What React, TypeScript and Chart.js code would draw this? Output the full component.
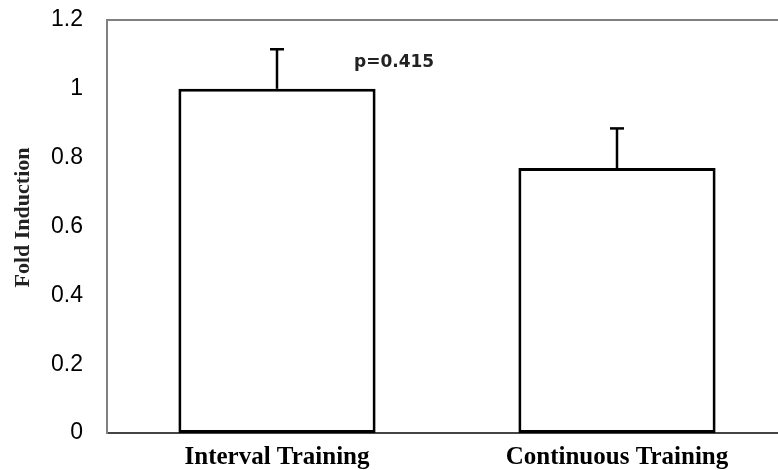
import React, { useEffect, useRef } from 'react';
import { Chart, registerables } from 'chart.js';

Chart.register(...registerables);

const categories = ['Interval Training', 'Continuous Training'];
const foldValues = [1.0, 0.77];
const errorValues = [0.115, 0.115];
const yTickLabels = ['0', '0.2', '0.4', '0.6', '0.8', '1', '1.2'];
const yAxisTitle = 'Fold Induction';
const pValueLabel = 'p=0.415';
const pValueY = 1.075;

export default function App() {
  const ref = useRef<HTMLCanvasElement>(null);

  useEffect(() => {
    if (!ref.current) return;
    const extras = {
      id: 'extras',
      beforeDatasetsDraw(chart: any) {
        const { ctx, chartArea } = chart;
        ctx.save();
        ctx.strokeStyle = '#808080';
        ctx.lineWidth = 2;
        ctx.beginPath();
        ctx.moveTo(chartArea.left - 1, chartArea.top);
        ctx.lineTo(chartArea.right, chartArea.top);
        ctx.stroke();
        // y axis title
        ctx.translate(chartArea.left - 78, (chartArea.top + chartArea.bottom) / 2 - 9);
        ctx.rotate(-Math.PI / 2);
        ctx.font = 'bold 22px "Liberation Serif"';
        ctx.fillStyle = '#222';
        ctx.textAlign = 'center';
        ctx.textBaseline = 'alphabetic';
        ctx.fillText(yAxisTitle, 0, 0);
        ctx.restore();
      },
      afterDatasetsDraw(chart: any) {
        const { ctx } = chart;
        const x = chart.scales.x;
        const y = chart.scales.y;
        const meta = chart.getDatasetMeta(0);
        ctx.save();
        ctx.strokeStyle = '#000';
        ctx.lineWidth = 2.5;
        meta.data.forEach((bar: any, i: number) => {
          const cx = bar.x;
          const base = y.getPixelForValue(foldValues[i]);
          const top = y.getPixelForValue(foldValues[i] + errorValues[i]);
          ctx.beginPath();
          ctx.moveTo(cx, base);
          ctx.lineTo(cx, top);
          ctx.stroke();
          ctx.beginPath();
          ctx.moveTo(cx - 7, top);
          ctx.lineTo(cx + 7, top);
          ctx.stroke();
        });
        ctx.font = 'bold 17px "DejaVu Sans"';
        ctx.fillStyle = '#222';
        ctx.textAlign = 'left';
        ctx.textBaseline = 'middle';
        ctx.fillText(pValueLabel, x.getPixelForValue(0) + 77, y.getPixelForValue(pValueY));
        ctx.restore();
      },
    };

    const chart = new Chart(ref.current, {
      type: 'bar',
      data: {
        labels: categories,
        datasets: [
          {
            data: foldValues,
            backgroundColor: '#ffffff',
            borderColor: '#000000',
            borderWidth: 3,
            borderSkipped: false,
            barPercentage: 0.58,
            categoryPercentage: 1,
          },
        ],
      },
      options: {
        responsive: false,
        animation: false,
        devicePixelRatio: 1,
        layout: { autoPadding: false, padding: { top: 20, right: 13, left: 0, bottom: 0 } },
        plugins: { legend: { display: false }, tooltip: { enabled: false } },
        scales: {
          x: {
            grid: { display: false, drawTicks: false },
            border: { display: true, color: '#444444', width: 2 },
            ticks: {
              color: '#000',
              padding: 10,
              font: { family: '"Liberation Serif"', size: 25, weight: 'bold' },
            },
            afterFit(scale: any) {
              scale.height = 37;
            },
          },
          y: {
            min: 0,
            max: 1.2,
            grid: { display: false, drawTicks: false },
            border: { display: true, color: '#808080', width: 2 },
            ticks: {
              stepSize: 0.2,
              color: '#000',
              padding: 24,
              font: { family: '"Liberation Sans"', size: 23 },
              callback: (_v: any, i: number) => yTickLabels[i],
            },
            afterFit(scale: any) {
              scale.width = 107;
              scale.paddingTop = 0;
              scale.paddingBottom = 0;
            },
          },
        },
      },
      plugins: [extras],
    });
    return () => chart.destroy();
  }, []);

  return (
    <div
      style={{
        position: 'fixed',
        left: 0,
        top: 0,
        width: 778,
        height: 470,
        overflow: 'hidden',
        background: '#fff',
      }}
    >
      <canvas ref={ref} width={800} height={470} style={{ display: 'block' }} />
    </div>
  );
}
